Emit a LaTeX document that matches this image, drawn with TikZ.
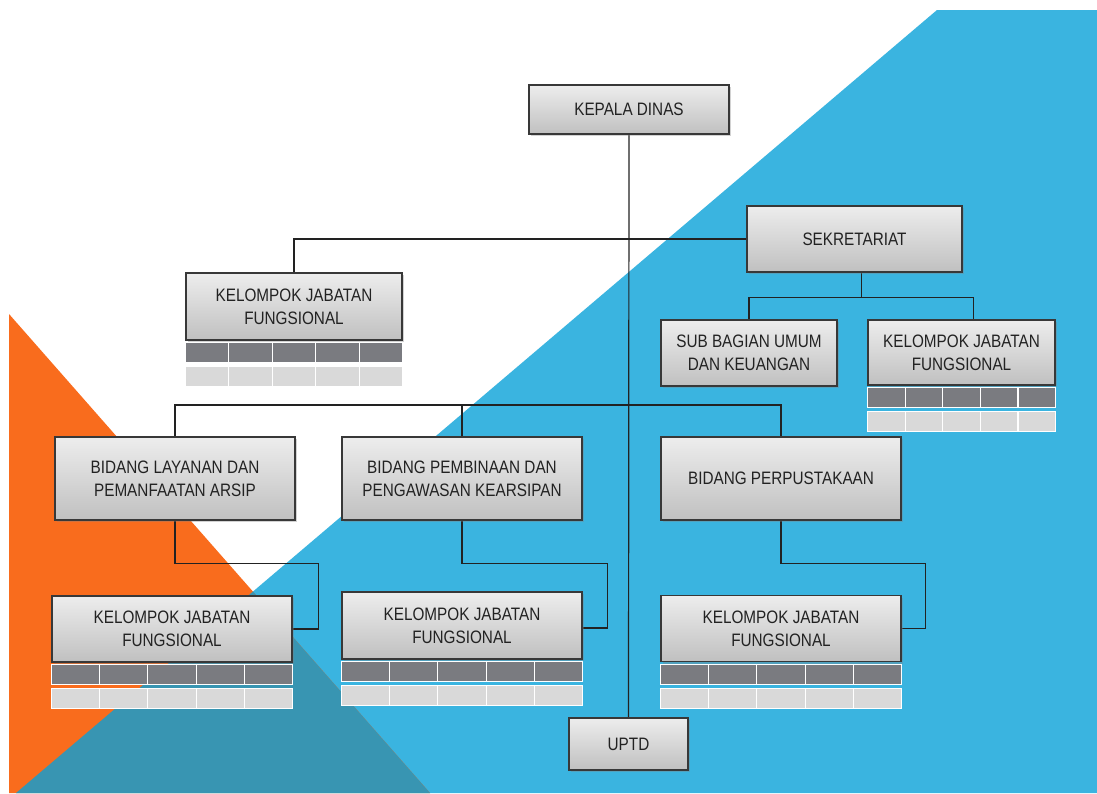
\documentclass[tikz,border=0pt]{standalone}
\usepackage{fontspec}
\setmainfont{Liberation Sans}[FakeStretch=0.85]
\usetikzlibrary{calc,shadows}
\definecolor{bgblue}{RGB}{58,180,224}
\definecolor{bgorange}{RGB}{249,108,29}
\definecolor{bgteal}{RGB}{56,149,178}
\definecolor{boxtop}{RGB}{237,237,237}
\definecolor{boxbot}{RGB}{192,192,192}
\definecolor{cellA}{RGB}{122,123,128}
\definecolor{cellB}{RGB}{217,217,217}
\definecolor{inkc}{RGB}{34,34,34}
\pgfdeclarelayer{bg}
\pgfdeclarelayer{conn}
\pgfsetlayers{bg,conn,main}
\tikzset{
  orgbox/.style={draw=inkc!90, line width=1.2pt, top color=boxtop, bottom color=boxbot,
    text=inkc, align=center, inner sep=0pt,
    font=\fontsize{18}{23}\selectfont,
    drop shadow={shadow xshift=1.5pt, shadow yshift=-2pt, opacity=0.35}},
  wire/.style={draw=inkc, line width=1.2pt},
  gridcell/.style={draw=white, line width=1.1pt}
}
\newcommand{\kjfgrid}[1]{%
  \foreach \i [evaluate=\i as \a using \i/5, evaluate=\i as \b using (\i+1)/5] in {0,...,4} {
    \filldraw[gridcell, fill=cellA] ($(#1.south west)!\a!(#1.south east)+(0,2)$) rectangle ($(#1.south west)!\b!(#1.south east)+(0,22)$);
    \filldraw[gridcell, fill=cellB] ($(#1.south west)!\a!(#1.south east)+(0,26)$) rectangle ($(#1.south west)!\b!(#1.south east)+(0,46)$);
  }%
}
\begin{document}
\begin{tikzpicture}[x=1pt,y=-1pt]
\useasboundingbox (0,0) rectangle (1097,793);
\begin{pgfonlayer}{bg}
  \fill[white] (0,0) rectangle (1097,793);
  \fill[bgblue] (937,10) -- (1097,10) -- (1097,793) -- (16,793) -- cycle;
  \fill[bgorange] (9,314) -- (430,793) -- (9,793) -- cycle;
  \begin{scope}
    \clip (9,314) -- (430,793) -- (9,793) -- cycle;
    \fill[bgteal] (937,10) -- (1097,10) -- (1097,793) -- (16,793) -- cycle;
  \end{scope}
\end{pgfonlayer}

\node[orgbox, minimum width=200pt, minimum height=49pt] (kepala) at (629,109.5) {KEPALA DINAS};
\node[orgbox, minimum width=215pt, minimum height=66pt] (sek) at (854.5,239) {SEKRETARIAT};
\node[orgbox, minimum width=176pt, minimum height=66pt] (sub) at (749,353) {SUB BAGIAN UMUM\\DAN KEUANGAN};
\node[orgbox, minimum width=187pt, minimum height=65pt] (kjf1) at (961.5,352.5) {KELOMPOK JABATAN\\FUNGSIONAL};
\node[orgbox, minimum width=216pt, minimum height=67pt] (kjf0) at (294,306.5) {KELOMPOK JABATAN\\FUNGSIONAL};
\node[orgbox, minimum width=240pt, minimum height=83pt] (bl) at (175,478.5) {BIDANG LAYANAN DAN\\PEMANFAATAN ARSIP};
\node[orgbox, minimum width=240pt, minimum height=83pt] (bp) at (462,478.5) {BIDANG PEMBINAAN DAN\\PENGAWASAN KEARSIPAN};
\node[orgbox, minimum width=240pt, minimum height=83pt] (pp) at (781,478.5) {BIDANG PERPUSTAKAAN};
\node[orgbox, minimum width=240pt, minimum height=66pt] (kjfbl) at (172,629) {KELOMPOK JABATAN\\FUNGSIONAL};
\node[orgbox, minimum width=240pt, minimum height=67pt] (kjfbp) at (462,625.5) {KELOMPOK JABATAN\\FUNGSIONAL};
\node[orgbox, minimum width=240pt, minimum height=66pt] (kjfpp) at (781,628.5) {KELOMPOK JABATAN\\FUNGSIONAL};
\node[orgbox, minimum width=119pt, minimum height=52pt] (uptd) at (628.5,744) {UPTD};

\kjfgrid{kjf0}
\kjfgrid{kjf1}
\kjfgrid{kjfbl}
\kjfgrid{kjfbp}
\kjfgrid{kjfpp}

\begin{pgfonlayer}{conn}
  \coordinate (bus) at (628,405);
  \coordinate (sekstem) at ($(sek.south)+(7,0)$);
  \coordinate (kjf1drop) at ($(kjf1.north)+(12,0)$);
  \draw[wire] (kepala.south) -- (uptd.north);
  \draw[wire] (sek.west) -| (kjf0.north);
  \draw[wire] (sekstem) -- ++(0,25) coordinate (sekbus);
  \draw[wire] (sub.north) |- (sekbus) -| (kjf1drop);
  \draw[wire] (bl.north) |- (bus) -| (pp.north);
  \draw[wire] (bp.north) -- (bp.north |- bus);
  \draw[wire] (bl.south) -- ++(0,43) -| ($(kjfbl.east)+(26,0)$) -- (kjfbl.east);
  \draw[wire] (bp.south) -- ++(0,43) -| ($(kjfbp.east)+(25,2.5)$) -- ($(kjfbp.east)+(0,2.5)$);
  \draw[wire] (pp.south) -- ++(0,43) -| ($(kjfpp.east)+(24,0)$) -- (kjfpp.east);
\end{pgfonlayer}
\end{tikzpicture}
\end{document}
